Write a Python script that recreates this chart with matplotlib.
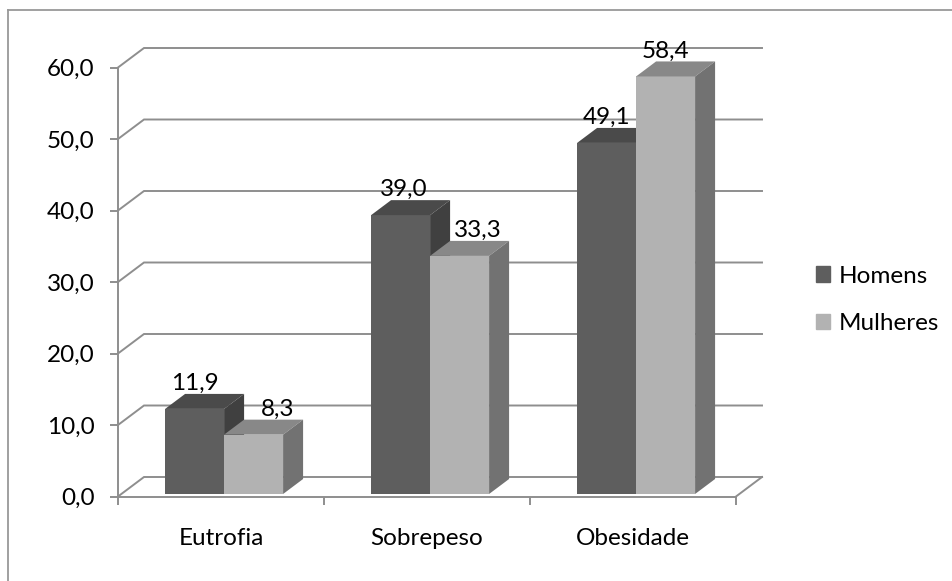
# -*- coding: utf-8 -*-
import numpy as np
import matplotlib
matplotlib.use("Agg")
import matplotlib.pyplot as plt
from matplotlib.patches import Patch
from matplotlib.lines import Line2D

plt.rcParams['font.family'] = ['Lato', 'DejaVu Sans']

categorias = ['Eutrofia', 'Sobrepeso', 'Obesidade']
homens = [11.9, 39.0, 49.1]
mulheres = [8.3, 33.3, 58.4]
yticks = [0, 10, 20, 30, 40, 50, 60]

W, H = 953, 581
fig = plt.figure(figsize=(W / 100, H / 100), dpi=100)
fonte = 17.5

# moldura do grafico (so topo e esquerda aparecem)
cor_linha = '#8e8e8e'
fig.add_artist(Line2D([8 / W, 8 / W], [0, 1 - 10 / H], color='#999999', lw=1.3))
fig.add_artist(Line2D([8 / W, 1], [1 - 10 / H, 1 - 10 / H], color='#999999', lw=1.3))

x0, x1, y0, y60 = 118, 736, 496.5, 67.5
ax = fig.add_axes([x0 / W, 1 - y0 / H, (x1 - x0) / W, (y0 - y60) / H])
ax.set_xlim(0, 3)
ax.set_ylim(0, 60)
ax.patch.set_alpha(0)

px = 3 / (x1 - x0)        # um pixel em unidades de x
py = 60 / (y0 - y60)      # um pixel em unidades de y

# profundidade da parede e das barras
dx_wall, dy_wall = 26 * px, 19.5 * py
dx_bar, dy_bar = 20 * px, 15 * py
largura = 59 * px
base = 2.5 * py
centro = 0.515

# paredes: linhas de grade e diagonais
for v in yticks:
    ax.plot([0, dx_wall, 3 + dx_wall], [v, v + dy_wall, v + dy_wall],
            color=cor_linha, lw=1.4, clip_on=False, zorder=1, solid_joinstyle='miter')
ax.plot([3, 3 + dx_wall], [0, dy_wall], color=cor_linha, lw=1.4, clip_on=False, zorder=1)


def barra3d(x, v, frente, topo, lado):
    esq = x - largura / 2
    dir_ = x + largura / 2
    t = v + base
    ax.bar(x, v, largura, bottom=base, color=frente, zorder=3, clip_on=False)
    ax.fill([esq, dir_, dir_ + dx_bar, esq + dx_bar], [t, t, t + dy_bar, t + dy_bar],
            color=topo, lw=0, zorder=3, clip_on=False)
    ax.fill([dir_, dir_ + dx_bar, dir_ + dx_bar, dir_], [base, base + dy_bar, t + dy_bar, t],
            color=lado, lw=0, zorder=3, clip_on=False)


for i in range(3):
    xc = i + centro
    barra3d(xc - largura / 2, homens[i], '#5e5e5e', '#4a4a4a', '#404040')
    barra3d(xc + largura / 2, mulheres[i], '#b2b2b2', '#888888', '#727272')

# rotulos de valor
desloc_h = [0, 3, 0]
desloc_m = [24, 18, 0]
for i in range(3):
    xc = i + centro
    for xb, v, d in [(xc - largura / 2, homens[i], desloc_h[i]),
                     (xc + largura / 2, mulheres[i], desloc_m[i])]:
        ax.annotate(f'{v:.1f}'.replace('.', ','), (xb, v + base + dy_bar),
                    xytext=(d * 0.72, 7.5), textcoords='offset points',
                    ha='center', va='center', fontsize=fonte, color='black',
                    zorder=5, annotation_clip=False)

for lado in ['top', 'right']:
    ax.spines[lado].set_visible(False)
for lado in ['left', 'bottom']:
    ax.spines[lado].set_color(cor_linha)
    ax.spines[lado].set_linewidth(1.4)
    ax.spines[lado].set_zorder(4)

ax.set_yticks(yticks)
ax.set_yticklabels([f'{v:.1f}'.replace('.', ',') for v in yticks], fontsize=fonte)
ax.set_xticks([0, 1, 2, 3])
ax.set_xticklabels([])
ax.set_xticks([0.5, 1.5, 2.5], minor=True)
ax.set_xticklabels(categorias, minor=True, fontsize=fonte)
ax.tick_params(axis='y', length=6, width=1.4, color=cor_linha, pad=11)
ax.tick_params(axis='x', which='major', length=6, width=1.4, color=cor_linha)
ax.tick_params(axis='x', which='minor', length=0, pad=23)

handles = [Patch(color='#5e5e5e', label='Homens'), Patch(color='#b2b2b2', label='Mulheres')]
fig.legend(handles=handles, loc='center left', bbox_to_anchor=(816 / W, 1 - 300 / H),
           frameon=False, fontsize=fonte, handlelength=0.58, handleheight=0.58,
           handletextpad=0.35, labelspacing=1.1, borderpad=0, borderaxespad=0)

fig.savefig('out.png', dpi=100)
